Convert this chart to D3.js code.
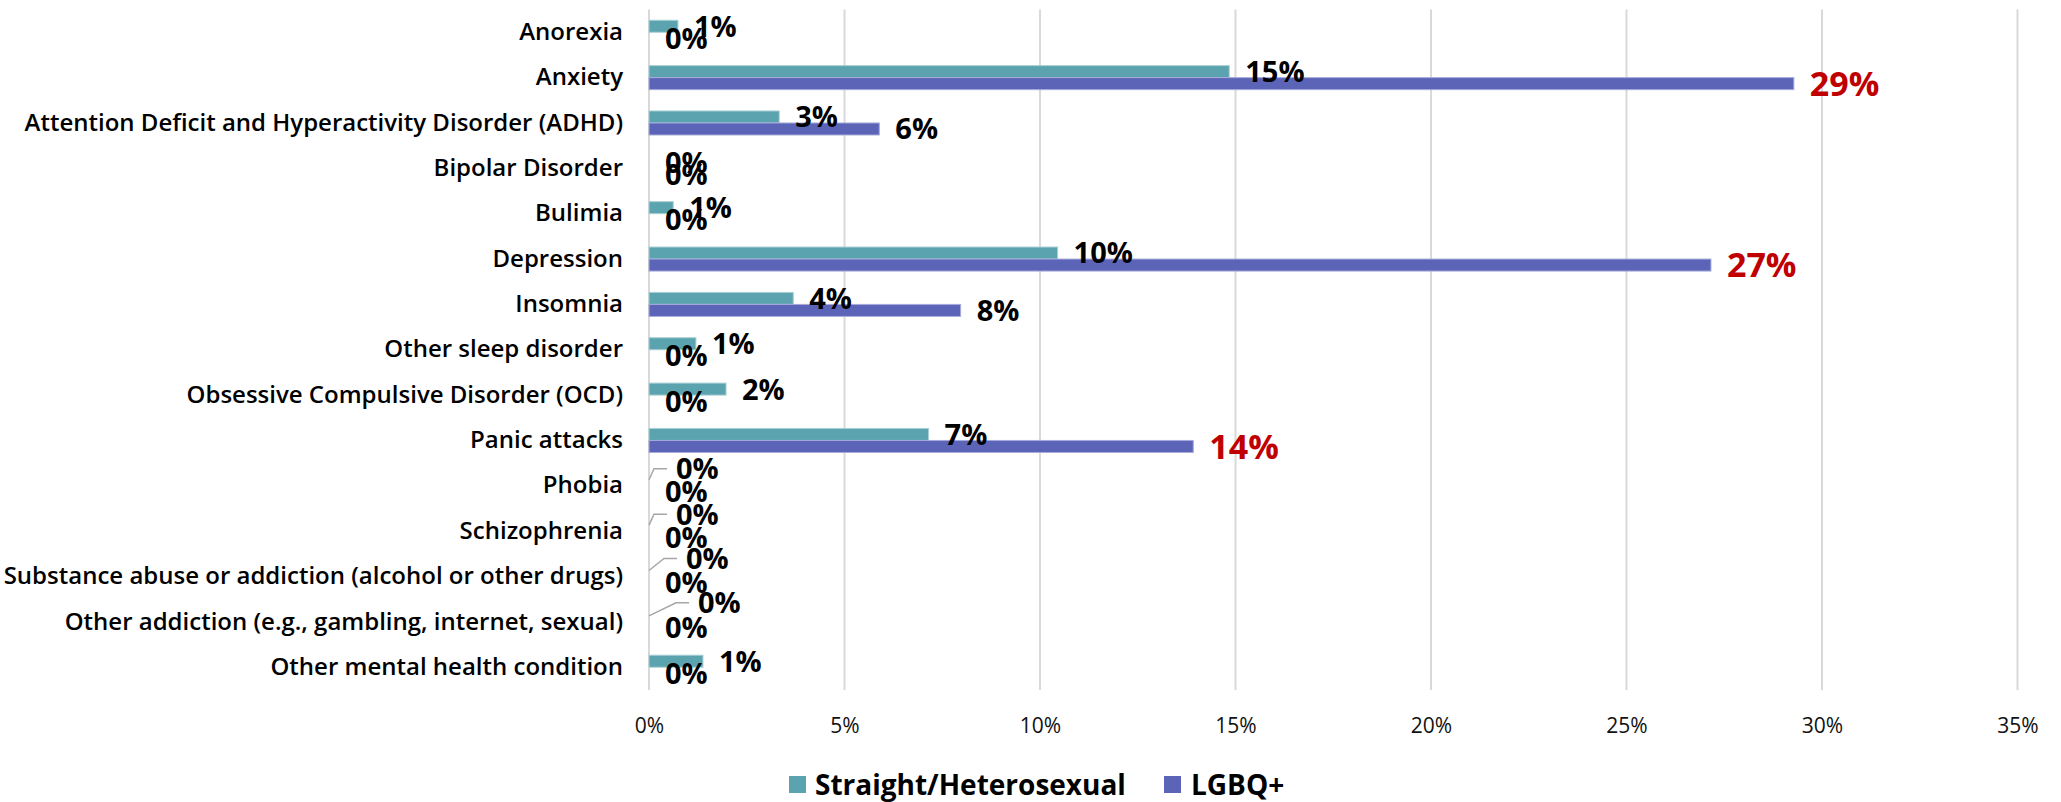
<!DOCTYPE html>
<html>
<head>
<meta charset="utf-8">
<script src="https://cdn.jsdelivr.net/npm/d3@7"></script>
<style>
  body { margin: 0; background: #fff; }
  svg { display: block; font-family: "Open Sans", sans-serif; }
</style>
</head>
<body>
<div id="chart"></div>
<script>
// categories, top to bottom
let categories = [
  "Anorexia",
  "Anxiety",
  "Attention Deficit and Hyperactivity Disorder (ADHD)",
  "Bipolar Disorder",
  "Bulimia",
  "Depression",
  "Insomnia",
  "Other sleep disorder",
  "Obsessive Compulsive Disorder (OCD)",
  "Panic attacks",
  "Phobia",
  "Schizophrenia",
  "Substance abuse or addiction (alcohol or other drugs)",
  "Other addiction (e.g., gambling, internet, sexual)",
  "Other mental health condition"
]
let seriesNames = ["Straight/Heterosexual", "LGBQ+"]
let straightValues = [0.0074, 0.1484, 0.0333, 0, 0.0062, 0.1045, 0.0369, 0.0120, 0.0197, 0.0715, 0, 0, 0, 0, 0.0138]
let lgbqValues = [0, 0.2928, 0.0589, 0, 0, 0.2716, 0.0797, 0, 0, 0.1392, 0, 0, 0, 0, 0]
let xTicks = [0, 0.05, 0.10, 0.15, 0.20, 0.25, 0.30, 0.35]

let colors = { "Straight/Heterosexual": "#5BA3AE", "LGBQ+": "#5C64B8" }
let strokes = { "Straight/Heterosexual": "#a9d0d6", "LGBQ+": "#a7abdb" }

// excel pushed these zero labels up and out, with a leader line
let labelNudge = {
  "Phobia": [11, -11],
  "Schizophrenia": [11, -11],
  "Substance abuse or addiction (alcohol or other drugs)": [21, -12],
  "Other addiction (e.g., gambling, internet, sexual)": [33, -13]
}

let width = 2061
let height = 802
let fmt = d3.format(".0%")

let svg = d3.select("#chart").append("svg")
  .attr("width", width)
  .attr("height", height)

let xScale = d3.scaleLinear().domain([0, 0.35]).range([649, 2017.5])
let yScale = d3.scaleBand().domain(categories).range([9.6, 689.9])
  .paddingInner(0.47).paddingOuter(0.235)
let ySub = d3.scaleBand().domain(seriesNames).range([0, yScale.bandwidth()])

// -- gridlines
svg.append("g")
  .selectAll("line")
  .data(xTicks)
  .enter()
  .append("line")
  .attr("x1", d => xScale(d))
  .attr("x2", d => xScale(d))
  .attr("y1", 9.6)
  .attr("y2", 689.9)
  .attr("stroke", "#d9d9d9")
  .attr("stroke-width", 2)

// -- x axis labels
let xAxis = d3.axisBottom(xScale).tickValues(xTicks).tickFormat(fmt).tickSize(0).tickPadding(0)
svg.append("g")
  .attr("transform", "translate(0, 726)")
  .call(xAxis)
  .call(g => g.select(".domain").remove())
  .call(g => g.selectAll("text")
    .attr("dy", "0.35em")
    .style("font-family", "'Open Sans', sans-serif")
    .style("font-size", "21px")
    .style("fill", "#111"))

// -- y axis labels
let yAxis = d3.axisLeft(yScale).tickSize(0).tickPadding(26)
svg.append("g")
  .attr("transform", "translate(649, 0)")
  .call(yAxis)
  .call(g => g.select(".domain").remove())
  .call(g => g.selectAll("text")
    .style("font-family", "'Open Sans', sans-serif")
    .style("font-size", "24px")
    .style("font-weight", 600)
    .style("fill", "#000"))

// -- bars
let rows = categories.map((c, i) => ({
  category: c,
  values: [
    { series: seriesNames[0], value: straightValues[i] },
    { series: seriesNames[1], value: lgbqValues[i] }
  ]
}))

let groups = svg.append("g")
  .selectAll("g")
  .data(rows)
  .enter()
  .append("g")
  .attr("transform", d => "translate(0," + yScale(d.category) + ")")

groups.selectAll("rect")
  .data(d => d.values.filter(v => v.value > 0))
  .enter()
  .append("rect")
  .attr("x", xScale(0))
  .attr("y", d => ySub(d.series))
  .attr("width", d => xScale(d.value) - xScale(0))
  .attr("height", ySub.bandwidth())
  .attr("fill", d => colors[d.series])
  .attr("stroke", d => strokes[d.series])
  .attr("stroke-width", 1)

// -- data labels
groups.each(function(row) {
  let g = d3.select(this)
  row.values.forEach(v => {
    let cy = ySub(v.series) + ySub.bandwidth() / 2
    let lx = xScale(v.value) + 16
    let ly = cy
    let nudge = (v.series === seriesNames[0] && v.value === 0) ? labelNudge[row.category] : null
    if (nudge) {
      lx += nudge[0]
      ly += nudge[1]
      g.append("path")
        .attr("d", "M" + xScale(0) + "," + cy + "L" + (lx - 22) + "," + ly + "L" + (lx - 9) + "," + ly)
        .attr("fill", "none")
        .attr("stroke", "#a6a6a6")
        .attr("stroke-width", 1.5)
    }
    let highlight = v.series === seriesNames[1] && v.value >= 0.1
    let size = highlight ? 34 : 29
    g.append("text")
      .attr("x", lx)
      .attr("y", ly)
      .attr("dy", "0.36em")
      .style("font-family", "'Open Sans', sans-serif")
      .style("font-weight", "bold")
      .style("font-size", size + "px")
      .style("fill", highlight ? "#C00000" : "#000")
      .text(fmt(v.value))
  })
})

// -- legend
let legendItems = [
  { name: seriesNames[0], sx: 789, tx: 815 },
  { name: seriesNames[1], sx: 1164, tx: 1191 }
]
let legend = svg.append("g")
legend.selectAll("rect")
  .data(legendItems)
  .enter()
  .append("rect")
  .attr("x", d => d.sx)
  .attr("y", 776)
  .attr("width", 17)
  .attr("height", 17)
  .attr("fill", d => colors[d.name])
legend.selectAll("text")
  .data(legendItems)
  .enter()
  .append("text")
  .attr("x", d => d.tx)
  .attr("y", 784.5)
  .attr("dy", "0.36em")
  .style("font-family", "'Open Sans', sans-serif")
  .style("font-weight", "bold")
  .style("font-size", "28px")
  .style("fill", "#000")
  .text(d => d.name)
</script>
</body>
</html>
